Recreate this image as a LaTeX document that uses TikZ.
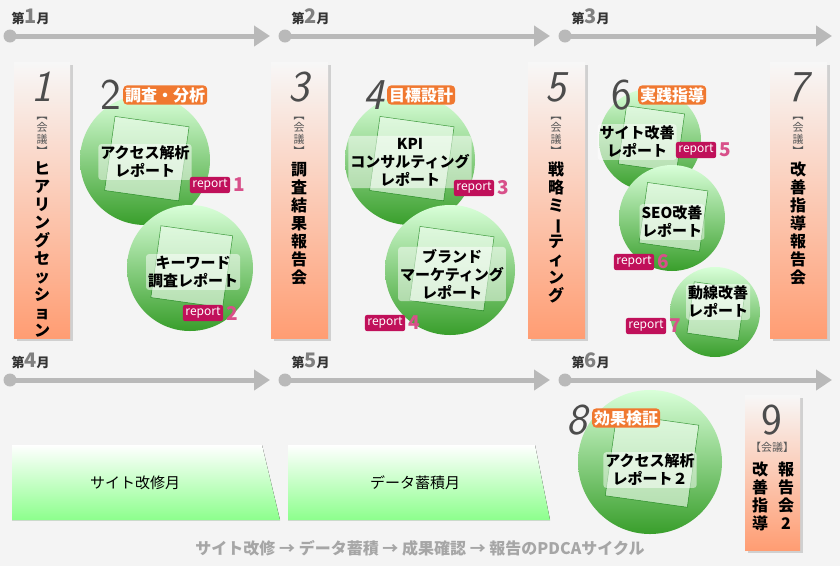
\documentclass[tikz,border=0pt]{standalone}
\usepackage{fontspec}
\setmainfont{Noto Sans CJK JP}
\newfontfamily\numf{Latin Modern Sans}
\usetikzlibrary{shadows,arrows.meta,calc}
\definecolor{crim}{HTML}{C0105A}
\definecolor{pnk}{HTML}{D8508A}
\definecolor{org}{HTML}{F07830}
\definecolor{grn}{HTML}{3FB030}
\newcommand{\vb}{\rotatebox[origin=c]{-90}{ー}}
\tikzset{
 vbox/.style={draw=none,top color=gray!6,bottom color=orange!60!red!55!white,drop shadow={opacity=0.3}},
 vtext/.style={font=\bfseries\fontsize{16}{18}\selectfont,align=center,inner sep=0pt},
 kai/.style={font=\fontsize{11}{12}\selectfont,text=gray!70!black,align=center,inner sep=0pt},
 bignum/.style={font=\numf\fontsize{44}{44}\selectfont,text=gray!60!black,inner sep=0pt},
 month/.style={font=\bfseries\fontsize{13}{13}\selectfont,text=black!80,anchor=west},
 tl/.style={line width=5pt,gray!55,-{Triangle[length=16pt,width=20pt]}},
 dot/.style={circle,fill=gray!55,minimum size=13pt,inner sep=0pt},
 disc/.style={circle,top color=green!15!white,bottom color=grn!90!black,draw=none},
 ctext/.style={font=\bfseries\fontsize{15}{18}\selectfont,align=center,fill=white,fill opacity=0.5,text opacity=1,rounded corners=3pt,inner sep=2pt},
 rep/.style={fill=crim,text=white,rounded corners=2pt,font=\fontsize{12}{12}\selectfont,inner sep=2.5pt,minimum height=15pt},
 rnum/.style={text=pnk,font=\bfseries\fontsize{19}{19}\selectfont,inner sep=0pt},
 tag/.style={fill=org,text=white,rounded corners=4pt,font=\bfseries\fontsize{16}{16}\selectfont,inner sep=2pt},
 mbox/.style={top color=white,bottom color=green!45!white,draw=none},
 paper/.style={fill=green!4!white,draw=green!45!black,line width=0.5pt,fill opacity=0.6,draw opacity=0.7}
}
\begin{document}
\begin{tikzpicture}[x=1pt,y=-1pt]
\useasboundingbox (0,0) rectangle (840,566);
\fill[gray!9] (0,0) rectangle (840,566);
% timelines
\foreach \xa/\xb/\yy in {10/270/36,285/550/36,565/832/36,10/270/380,285/550/380,565/832/380}{
  \draw[tl] (\xa,\yy) -- (\xb,\yy);
  \node[dot] at (\xa,\yy) {};
}
\node[month] (m1) at (8,17) {第\textcolor{gray}{\fontsize{20}{20}\selectfont 1}月};
\node[month] (m2) at (288,17) {第\textcolor{gray}{\fontsize{20}{20}\selectfont 2}月};
\node[month] (m3) at (568,17) {第\textcolor{gray}{\fontsize{20}{20}\selectfont 3}月};
\node[month] (m4) at (8,361) {第\textcolor{gray}{\fontsize{20}{20}\selectfont 4}月};
\node[month] (m5) at (288,361) {第\textcolor{gray}{\fontsize{20}{20}\selectfont 5}月};
\node[month] (m6) at (568,361) {第\textcolor{gray}{\fontsize{20}{20}\selectfont 6}月};
% vertical boxes
\fill[vbox] (14,62) rectangle (70,338);
\fill[vbox] (271,62) rectangle (328,338);
\fill[vbox] (528,62) rectangle (585,338);
\fill[vbox] (770,62) rectangle (827,338);
\fill[vbox] (745,395) rectangle (800,550);
\node[bignum,font=\numf\itshape\fontsize{44}{44}\selectfont] (n1) at (42,87) {1};
\node[bignum,font=\numf\itshape\fontsize{44}{44}\selectfont] (n3) at (299,87) {3};
\node[bignum,font=\numf\itshape\fontsize{44}{44}\selectfont] (n5) at (556,87) {5};
\node[bignum,font=\numf\itshape\fontsize{44}{44}\selectfont] (n7) at (798,87) {7};
\node[bignum] (n9) at (772,420) {9};
\node[kai] (k1) at (42,136) {︻\\会\\議\\︼};
\node[kai] (k3) at (299,136) {︻\\会\\議\\︼};
\node[kai] (k5) at (556,136) {︻\\会\\議\\︼};
\node[kai] (k7) at (798,136) {︻\\会\\議\\︼};
\node[kai] (k9) at (772,447) {【会議】};
\node[vtext,anchor=north] (v1) at (42,162) {ヒ\\ア\\リ\\ン\\グ\\セ\\ッ\\シ\\ョ\\ン};
\node[vtext,anchor=north] (v3) at (299,162) {調\\査\\結\\果\\報\\告\\会};
\node[vtext,anchor=north] (v5) at (556,162) {戦\\略\\ミ\\\vb\\テ\\ィ\\ン\\グ};
\node[vtext,anchor=north] (v7) at (798,162) {改\\善\\指\\導\\報\\告\\会};
\node[vtext,anchor=north] (v9a) at (786,462) {報\\告\\会\\2};
\node[vtext,anchor=north] (v9b) at (760,462) {改\\善\\指\\導};
% month boxes
\fill[mbox] (12,445) -- (262,445) -- (280,520) -- (12,520) -- cycle;
\fill[mbox] (288,445) -- (535,445) -- (550,520) -- (288,520) -- cycle;
\node[font=\fontsize{15}{15}\selectfont] (s1) at (135,483) {サイト改修月};
\node[font=\fontsize{15}{15}\selectfont] (s2) at (415,483) {データ蓄積月};
% discs
\foreach \n/\cx/\cy/\r in {d1/145/160/65,d2/190/268/63,d3/410/160/65,d4/450/270/65,d5/650/140/51,d6/672/218/53,d7/715/312/45,d8/650/462/72}{
  \node[disc,minimum size=2*\r pt] (\n) at (\cx,\cy) {};
  \fill[paper,rotate around={-8:(\cx,\cy)}] ($(\cx,\cy)+(-0.55*\r,-0.6*\r)$) rectangle ($(\cx,\cy)+(0.6*\r,0.55*\r)$);
}
\node[ctext] (t1) at (145,162) {アクセス解析\\レポート};
\node[ctext] (t2) at (193,272) {キーワード\\調査レポート};
\node[ctext] (t3) at (410,162) {KPI\\コンサルティング\\レポート};
\node[ctext] (t4) at (452,274) {ブランド\\マーケティング\\レポート};
\node[ctext] (t5) at (637,142) {サイト改善\\レポート};
\node[ctext] (t6) at (672,222) {SEO改善\\レポート};
\node[ctext] (t7) at (718,302) {動線改善\\レポート};
\node[ctext] (t8) at (650,470) {アクセス解析\\レポート２};
% stage numbers & tags
\node[bignum] (n2) at (111,95) {2};
\node[tag,anchor=west] (g2) at (123,95) {調査・分析};
\node[bignum,font=\numf\itshape\fontsize{44}{44}\selectfont] (n4) at (374,95) {4};
\node[tag,anchor=west] (g4) at (387,95) {目標設計};
\node[bignum] (n6) at (622,95) {6};
\node[tag,anchor=west] (g6) at (638,95) {実践指導};
\node[bignum,font=\numf\itshape\fontsize{44}{44}\selectfont] (n8) at (577,420) {8};
\node[tag,anchor=west] (g8) at (592,418) {効果検証};
% report tags
\foreach \n/\x/\y/\k in {r1/210/185/1,r2/203/313/2,r3/474/188/3,r4/385/323/4,r5/696/150/5,r6/634/262/6,r7/646/326/7}{
  \node[rep] (\n) at (\x,\y) {report};
  \node[rnum,anchor=west] (\n n) at (\n.east) {\,\k};
}
% bottom caption
\node[font=\bfseries\fontsize{16}{16}\selectfont,text=gray!70] (cap) at (420,548) {サイト改修 → データ蓄積 → 成果確認 → 報告のPDCAサイクル};
\end{tikzpicture}
\end{document}
